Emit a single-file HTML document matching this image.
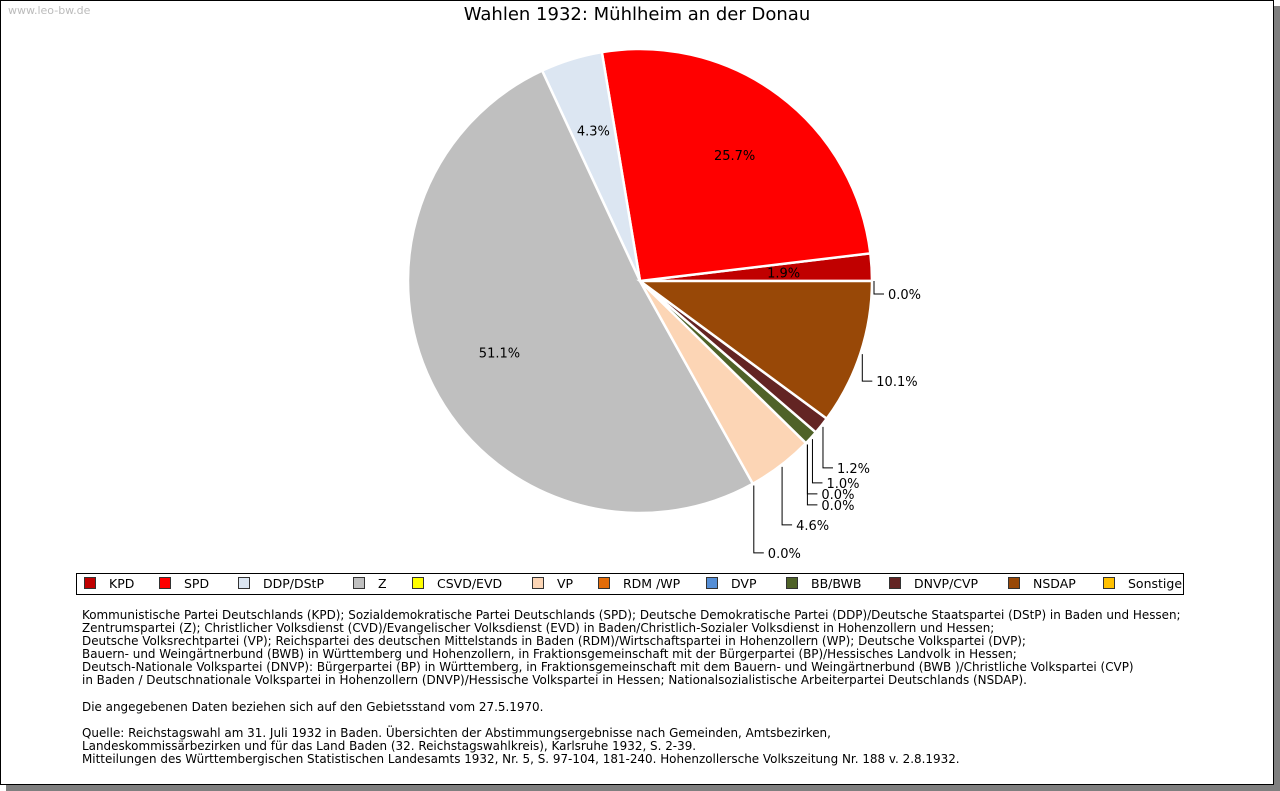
<!DOCTYPE html>
<html><head><meta charset="utf-8">
<style>
body{margin:0;width:1280px;height:791px;background:#fff;overflow:hidden;font-family:"DejaVu Sans","Liberation Sans",sans-serif;}
#frame{position:absolute;left:0;top:0;width:1272px;height:783px;border:1px solid #000;background:#fff;box-shadow:6px 6px 0 #7f7f7f;}
#wm{position:absolute;left:8px;top:4px;font-size:11px;color:#bbb;}
#title{position:absolute;left:0;width:1274px;top:4px;text-align:center;font-size:18px;color:#000;}
#legend{position:absolute;left:76px;top:573px;width:1106px;height:20px;border:1px solid #000;}
#desc{position:absolute;left:82px;top:609px;font-size:11.95px;line-height:13.1px;color:#000;white-space:pre;}
</style></head><body>
<div id="frame"></div>
<div id="wm">www.leo-bw.de</div>
<div id="title">Wahlen 1932: Mühlheim an der Donau</div>
<svg id="pie" width="1280" height="791" style="position:absolute;left:0;top:0"></svg>
<div id="legend"></div>
<div id="desc">Kommunistische Partei Deutschlands (KPD); Sozialdemokratische Partei Deutschlands (SPD); Deutsche Demokratische Partei (DDP)/Deutsche Staatspartei (DStP) in Baden und Hessen;
Zentrumspartei (Z); Christlicher Volksdienst (CVD)/Evangelischer Volksdienst (EVD) in Baden/Christlich-Sozialer Volksdienst in Hohenzollern und Hessen;
Deutsche Volksrechtpartei (VP); Reichspartei des deutschen Mittelstands in Baden (RDM)/Wirtschaftspartei in Hohenzollern (WP); Deutsche Volkspartei (DVP);
Bauern- und Weingärtnerbund (BWB) in Württemberg und Hohenzollern, in Fraktionsgemeinschaft mit der Bürgerpartei (BP)/Hessisches Landvolk in Hessen;
Deutsch-Nationale Volkspartei (DNVP): Bürgerpartei (BP) in Württemberg, in Fraktionsgemeinschaft mit dem Bauern- und Weingärtnerbund (BWB )/Christliche Volkspartei (CVP)
in Baden / Deutschnationale Volkspartei in Hohenzollern (DNVP)/Hessische Volkspartei in Hessen; Nationalsozialistische Arbeiterpartei Deutschlands (NSDAP).

Die angegebenen Daten beziehen sich auf den Gebietsstand vom 27.5.1970.

Quelle: Reichstagswahl am 31. Juli 1932 in Baden. Übersichten der Abstimmungsergebnisse nach Gemeinden, Amtsbezirken,
Landeskommissärbezirken und für das Land Baden (32. Reichstagswahlkreis), Karlsruhe 1932, S. 2-39.
Mitteilungen des Württembergischen Statistischen Landesamts 1932, Nr. 5, S. 97-104, 181-240. Hohenzollersche Volkszeitung Nr. 188 v. 2.8.1932.</div>
<script>
const parties = ["KPD","SPD","DDP/DStP","Z","CSVD/EVD","VP","RDM /WP","DVP","BB/BWB","DNVP/CVP","NSDAP","Sonstige"];
const values = [1.9,25.7,4.3,51.1,0.0,4.6,0.0,0.0,1.0,1.2,10.1,0.0];
const colors = ["#c00000","#ff0000","#dce6f2","#bfbfbf","#ffff00","#fcd5b5","#e36c09","#558ed5","#4f6228","#632423","#984807","#ffc000"];
const insideLabels = ["KPD","SPD","DDP/DStP","Z"];

const NS="http://www.w3.org/2000/svg";
const svg=document.getElementById('pie');
const cx=640,cy=281,R=232;
const total=values.reduce((a,b)=>a+b,0);
function pt(a,r){return [cx+r*Math.cos(a*Math.PI/180), cy-r*Math.sin(a*Math.PI/180)];}
let ang=0,prevY=0;
const outs=[];
values.forEach((v,i)=>{
  const sweep=v/total*360, a0=ang, a1=ang+sweep, mid=(a0+a1)/2;
  ang=a1;
  if(sweep>0){
    const p0=pt(a0,R),p1=pt(a1,R);
    const path=document.createElementNS(NS,'path');
    path.setAttribute('d',`M${cx},${cy} L${p0[0]},${p0[1]} A${R},${R} 0 ${sweep>180?1:0} 0 ${p1[0]},${p1[1]} Z`);
    path.setAttribute('fill',colors[i]);
    path.setAttribute('stroke','#fff');
    path.setAttribute('stroke-width','2.5');
    
    
    svg.appendChild(path);
  }
  const label=v.toFixed(1)+'%';
  if(insideLabels.includes(parties[i])){
    const r=parties[i]==="KPD"?0.62*R:0.68*R;
    const p=pt(mid,r);
    const t=document.createElementNS(NS,'text');
    t.setAttribute('x',p[0]);t.setAttribute('y',p[1]+5);
    t.setAttribute('text-anchor','middle');t.setAttribute('font-size','13');
    t.textContent=label;
    
    
    svg.appendChild(t);
  } else outs.push({i,mid,label});
});
outs.sort((a,b)=>b.mid-a.mid);
prevY=0;
outs.forEach(o=>{
  const e=pt(o.mid,R+2);
  const s=Math.abs(Math.sin(o.mid*Math.PI/180));
  let drop;
  if(s<0.05) drop=13;
  else if(s<=0.67) drop=13+45*s;
  else drop=Math.min(68, 43+120*(s-0.67));
  let y=Math.max(e[1]+drop, prevY+11);
  prevY=y;
  const pl=document.createElementNS(NS,'polyline');
  pl.setAttribute('points',`${e[0]},${e[1]} ${e[0]},${y} ${e[0]+10},${y}`);
  pl.setAttribute('fill','none');pl.setAttribute('stroke','#000');pl.setAttribute('stroke-width','1');
  
  
  svg.appendChild(pl);
  const t=document.createElementNS(NS,'text');
  t.setAttribute('x',e[0]+14);t.setAttribute('y',y+5);t.setAttribute('font-size','13');
  t.textContent=o.label;
  
  
  svg.appendChild(t);
});
const lg=document.getElementById('legend');
const lx=[7,82,161,276,335,455,521,629,709,812,931,1026];
parties.forEach((p,i)=>{
  const d=document.createElement('div');
  d.style.cssText=`position:absolute;left:${lx[i]}px;top:3px;height:14px;font-size:12.5px;line-height:14px;white-space:nowrap;`;
  d.innerHTML=`<span style="display:inline-block;width:10px;height:10px;border:1px solid #333;background:${colors[i]};vertical-align:-1px;margin-right:13px"></span>${p}`;
  
  
  lg.appendChild(d);
});
</script>
</body></html>
